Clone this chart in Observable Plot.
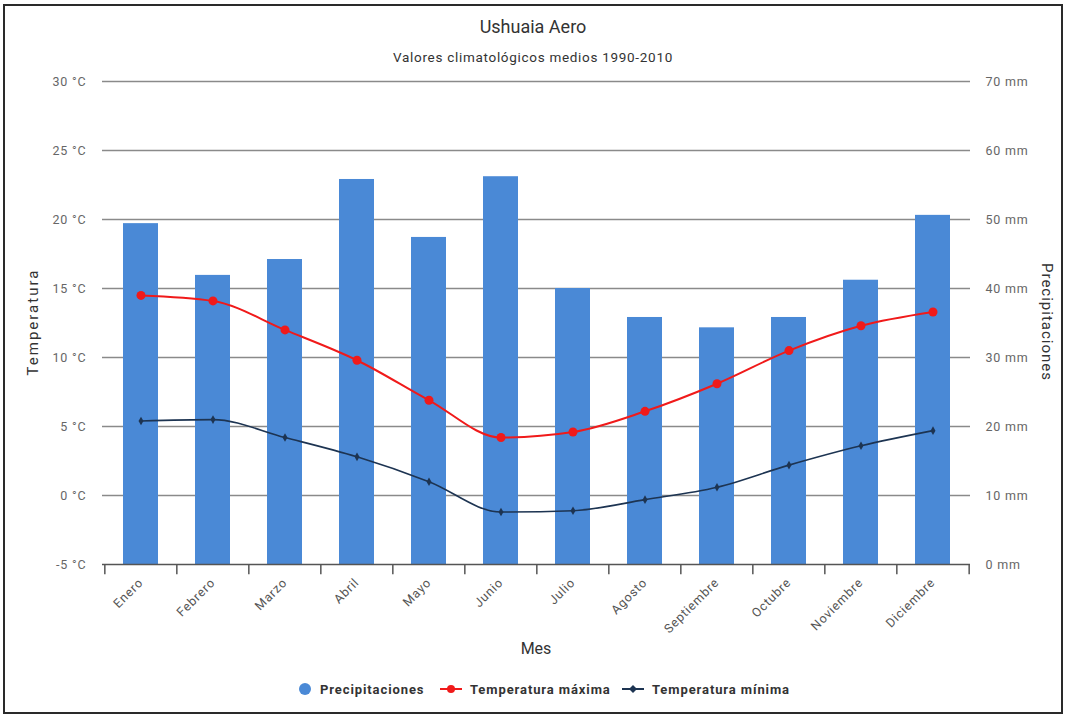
<!DOCTYPE html>
<html>
<head>
<meta charset="utf-8">
<script src="https://cdn.jsdelivr.net/npm/d3@7"></script>
<script src="https://cdn.jsdelivr.net/npm/@observablehq/plot@0.6"></script>
<style>
  html, body { margin: 0; padding: 0; background: #fff; }
  body { width: 1066px; height: 717px; position: relative; overflow: hidden; font-family: Roboto, "Noto Sans", sans-serif; color: #333; }
  #frame { position: absolute; left: 3px; top: 4px; width: 1056px; height: 706px; border: 2px solid #2a2a2a; }
  .abs { position: absolute; white-space: nowrap; }
  #title { left: 0; width: 1066px; top: 16px; text-align: center; font-size: 18px; color: #333; }
  #subtitle { left: 0; width: 1066px; top: 49px; text-align: center; font-size: 13.5px; letter-spacing: 0.7px; color: #333; }
  #chart { position: absolute; left: 0; top: 70px; }
  .ylab { font-size: 15px; color: #333; }
  #ylabL { left: 33px; top: 322px; transform: translate(-50%, -50%) rotate(-90deg); letter-spacing: 2px; }
  #ylabR { left: 1047px; top: 322px; transform: translate(-50%, -50%) rotate(90deg); letter-spacing: 1px; }
  #xlab { left: 536px; top: 648px; transform: translate(-50%, -50%); font-size: 16px; color: #333; }
  #legend { left: 0; top: 680px; width: 1066px; height: 18px; }
  .item { position: absolute; top: 0; height: 18px; display: flex; align-items: center; font-size: 13px; letter-spacing: 0.9px; font-weight: bold; color: #333; }
</style>
</head>
<body>
<div id="frame"></div>
<div id="title" class="abs">Ushuaia Aero</div>
<div id="subtitle" class="abs">Valores climatológicos medios 1990-2010</div>
<div id="chart"></div>
<div id="ylabL" class="abs ylab">Temperatura</div>
<div id="ylabR" class="abs ylab">Precipitaciones</div>
<div id="xlab" class="abs">Mes</div>
<div id="legend" class="abs"></div>
<script>
// ---- data ----
const months = ["Enero", "Febrero", "Marzo", "Abril", "Mayo", "Junio", "Julio", "Agosto", "Septiembre", "Octubre", "Noviembre", "Diciembre"];
const precipitaciones = [49.4, 41.9, 44.2, 55.8, 47.4, 56.2, 40.0, 35.8, 34.3, 35.8, 41.2, 50.6]; // mm
const tempMax = [14.5, 14.1, 12.0, 9.8, 6.9, 4.2, 4.6, 6.1, 8.1, 10.5, 12.3, 13.3]; // °C
const tempMin = [5.4, 5.5, 4.2, 2.8, 1.0, -1.2, -1.1, -0.3, 0.6, 2.2, 3.6, 4.7]; // °C
const tempTicks = [-5, 0, 5, 10, 15, 20, 25, 30];
const precipTicks = [0, 10, 20, 30, 40, 50, 60, 70];

const colors = { precip: "#4a89d6", tmax: "#f01a1a", tmin: "#1d3452", grid: "#8a8a8a", axis: "#555" };

// precipitation axis (0..70 mm) shares the pixel range of the temperature axis (-5..30 °C)
const tLo = tempTicks[0], tHi = tempTicks[tempTicks.length - 1];
const pLo = precipTicks[0], pHi = precipTicks[precipTicks.length - 1];
const mmToT = mm => tLo + (mm - pLo) * (tHi - tLo) / (pHi - pLo);
const tToMm = t => pLo + (t - tLo) * (pHi - pLo) / (tHi - tLo);

const data = months.map((m, i) => ({ mes: m, precip: precipitaciones[i], tmax: tempMax[i], tmin: tempMin[i] }));

const W = 1066, H = 600, ML = 102, MR = 96, MT = 11, MB = 106;
const step = (W - ML - MR) / months.length;
const tickLen = 0.75; // °C units below the axis (≈10px)

const tickStyle = { fontFamily: "Roboto, 'Noto Sans', sans-serif", fontSize: "12.5px", letterSpacing: "0.8px" };

const chart = Plot.plot({
  width: W, height: H,
  marginLeft: ML, marginRight: MR, marginTop: MT, marginBottom: MB,
  style: { fontFamily: "Roboto, 'Noto Sans', sans-serif", fontSize: "12.5px", color: "#666", background: "transparent", overflow: "visible", letterSpacing: "0.8px" },
  x: { domain: months, paddingInner: 0.52, paddingOuter: 0.26, axis: null },
  y: { domain: [tLo, tHi], axis: null },
  marks: [
    Plot.ruleY(tempTicks.slice(1), { stroke: colors.grid, strokeWidth: 1.6 }),
    Plot.axisY({ anchor: "left", ticks: tempTicks, tickSize: 0, tickPadding: 16, tickFormat: d => `${d} °C`, label: null, fill: "#666" }),
    Plot.axisY({ anchor: "right", ticks: precipTicks.map(mmToT), tickSize: 0, tickPadding: 15, tickFormat: t => `${Math.round(tToMm(t))} mm`, label: null, fill: "#666" }),
    Plot.barY(data, { x: "mes", y1: tLo, y2: d => mmToT(d.precip), fill: colors.precip }),
    Plot.ruleY([tLo], { stroke: colors.axis, strokeWidth: 1.5 }),
    Plot.ruleX(months, { x: d => d, y1: tLo, y2: tLo - tickLen, dx: -step / 2, stroke: colors.axis, strokeWidth: 1.5 }),
    Plot.ruleX(months.slice(-1), { x: d => d, y1: tLo, y2: tLo - tickLen, dx: step / 2, stroke: colors.axis, strokeWidth: 1.5 }),
    Plot.text(months, { x: d => d, y: tLo, dy: 16, rotate: -45, textAnchor: "end", fill: "#555" }),
    Plot.line(data, { x: "mes", y: "tmax", curve: "monotone-x", stroke: colors.tmax, strokeWidth: 2 }),
    Plot.dot(data, { x: "mes", y: "tmax", r: 4.5, fill: colors.tmax, stroke: "none" }),
    Plot.line(data, { x: "mes", y: "tmin", curve: "monotone-x", stroke: colors.tmin, strokeWidth: 1.6 }),
    Plot.dot(data, { x: "mes", y: "tmin", r: 2.6, symbol: "diamond", fill: colors.tmin, stroke: "none" })
  ]
});
document.getElementById("chart").appendChild(chart);

// ---- legend ----
const legendItems = [
  { label: "Precipitaciones", type: "circle", color: colors.precip, left: 298 },
  { label: "Temperatura máxima", type: "line", color: colors.tmax, left: 440 },
  { label: "Temperatura mínima", type: "lineDiamond", color: colors.tmin, left: 622 }
];
const legend = document.getElementById("legend");
legendItems.forEach(it => {
  const div = document.createElement("div");
  div.className = "item";
  div.style.left = it.left + "px";
  let sym;
  if (it.type === "circle") {
    sym = `<svg width="16" height="16" style="margin-right:6px"><circle cx="7" cy="8" r="6" fill="${it.color}"/></svg>`;
  } else if (it.type === "line") {
    sym = `<svg width="24" height="16" style="margin-right:6px"><line x1="0" y1="8" x2="22" y2="8" stroke="${it.color}" stroke-width="2"/><circle cx="11" cy="8" r="4" fill="${it.color}"/></svg>`;
  } else {
    sym = `<svg width="24" height="16" style="margin-right:6px"><line x1="0" y1="8" x2="22" y2="8" stroke="${it.color}" stroke-width="2"/><path d="M11 4 L15 8 L11 12 L7 8 Z" fill="${it.color}"/></svg>`;
  }
  div.innerHTML = sym + `<span>${it.label}</span>`;
  legend.appendChild(div);
});
</script>
</body>
</html>
